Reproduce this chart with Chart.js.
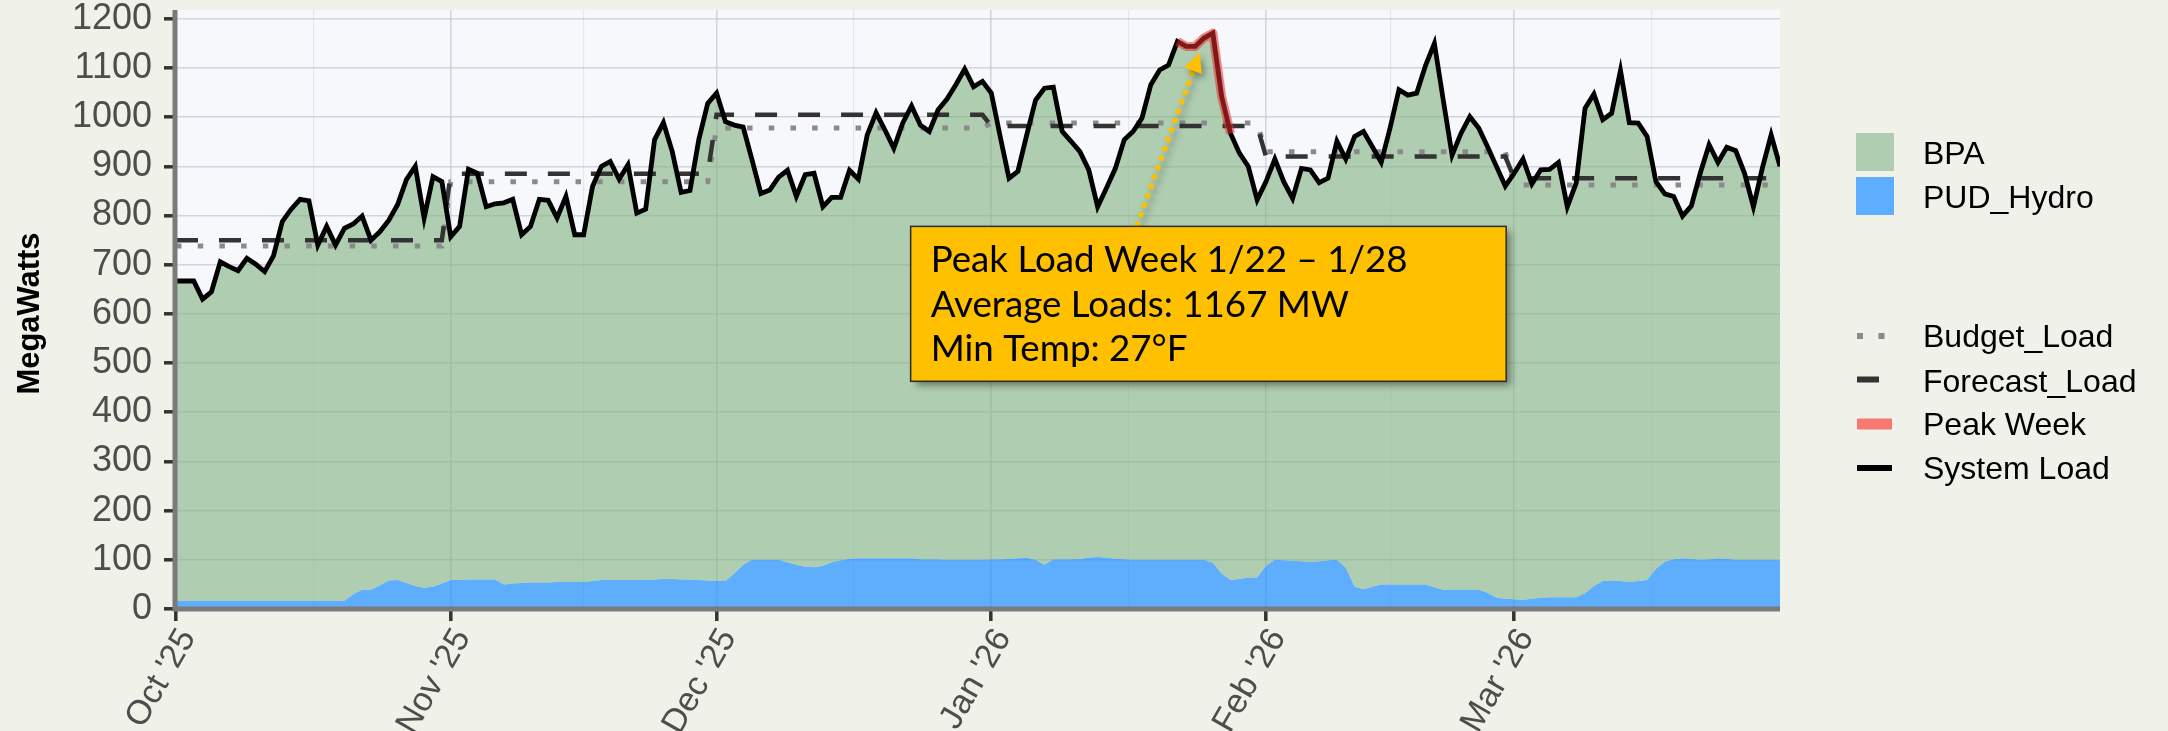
<!DOCTYPE html>
<html>
<head>
<meta charset="utf-8">
<script src="https://cdn.jsdelivr.net/npm/chart.js@4.4.1/dist/chart.umd.min.js"></script>
<style>
html,body{margin:0;padding:0;background:#f0f1e9;overflow:hidden}
canvas{display:block}
</style>
</head>
<body>
<canvas id="c" width="2168" height="731" style="width:2168px;height:731px"></canvas>
<script>
// ---------------- DATA ----------------
const START_DATE = '2025-10-01';
const MONTH_LABELS = ["Oct '25", "Nov '25", "Dec '25", "Jan '26", "Feb '26", "Mar '26"];
const MONTH_DAYS = [31, 30, 31, 31, 28, 31];
const Y_TICKS = [0, 100, 200, 300, 400, 500, 600, 700, 800, 900, 1000, 1100, 1200];
const Y_TITLE = 'MegaWatts';

// Daily system load (MW), Oct 1 2025 – Mar 31 2026
const SYSTEM_LOAD = [
  667,667,667,630,645,706,696,688,713,701,
  686,718,788,813,833,830,740,778,740,774,
  783,799,750,767,790,822,873,900,795,879,
  869,757,778,894,886,818,824,826,833,761,
  778,833,831,795,839,761,761,859,900,910,
  874,903,805,813,954,989,930,847,851,955,
  1028,1049,991,984,980,913,845,852,878,892,
  839,883,886,818,837,837,892,874,964,1009,
  974,937,988,1023,984,971,1015,1037,1066,1098,
  1062,1073,1049,961,876,890,964,1035,1059,1061,
  971,951,930,893,818,856,896,954,971,998,
  1066,1096,1106,1154,1144,1144,1161,1171,1042,967,
  927,900,832,869,915,869,835,896,893,867,
  876,951,915,961,971,940,908,978,1056,1045,
  1049,1105,1150,1035,923,967,1001,978,940,900,
  860,886,915,864,893,894,908,818,866,1018,
  1047,995,1008,1095,989,988,961,869,844,839,
  799,820,886,944,908,939,932,886,818,896,
  964,900
];

// Daily PUD hydro (MW)
const PUD_HYDRO = [
  17,17,17,17,17,17,17,17,17,17,
  17,17,17,17,17,17,17,17,17,17,
  30,39,39,48,58,59,53,47,43,45,
  52,59,59,60,60,60,60,50,52,53,
  54,54,54,55,55,55,55,57,59,59,
  59,59,59,59,60,61,61,60,60,59,
  58,57,57,72,90,100,100,100,100,95,
  90,86,85,88,95,99,102,103,103,103,
  103,103,103,103,101,101,101,100,100,100,
  100,100,101,101,102,103,104,100,90,101,
  101,101,102,104,106,104,102,101,100,100,
  100,100,100,100,100,100,100,94,72,59,
  61,64,64,88,100,99,98,97,96,97,
  99,100,84,45,40,45,50,50,50,50,
  50,50,44,39,39,39,39,39,33,23,
  21,20,19,21,23,24,24,24,24,32,
  47,57,58,57,55,57,59,82,96,101,
  103,102,100,101,103,102,100,100,100,100,
  100,100
];

// Monthly budget / forecast loads (MW), Oct..Mar
const BUDGET_MONTHLY   = [738, 869, 978, 988, 930, 862];
const FORECAST_MONTHLY = [750, 885, 1005, 982, 920, 876];

const PEAK_WEEK_START = '2026-01-22';
const PEAK_WEEK_END   = '2026-01-28';
const ANNOTATION_LINES = ['Peak Load Week 1/22 \u2013 1/28', 'Average Loads: 1167 MW', 'Min Temp: 27\u00B0F'];

const LEGEND_FILLS = [
  {label: 'BPA', color: 'rgb(175,205,176)'},
  {label: 'PUD_Hydro', color: 'rgb(94,174,255)'}
];
const LEGEND_LINES = [
  {label: 'Budget_Load', kind: 'dot'},
  {label: 'Forecast_Load', kind: 'dash'},
  {label: 'Peak Week', kind: 'peak'},
  {label: 'System Load', kind: 'solid'}
];

// ---------------- DERIVED ----------------
const dayIndex = iso => Math.round((Date.parse(iso) - Date.parse(START_DATE)) / 86400000);
const MONTH_STARTS = [];
MONTH_DAYS.reduce((acc, d) => { MONTH_STARTS.push(acc); return acc + d; }, 0);
const N_DAYS = MONTH_DAYS.reduce((a, b) => a + b, 0);
const MONTH_MIDS = MONTH_STARTS.map((s, i) => s + MONTH_DAYS[i] / 2);
const X_TICK_VALUES = MONTH_STARTS.concat(MONTH_MIDS).sort((a, b) => a - b);
const Y_GRID_VALUES = [];
Y_TICKS.forEach((v, i) => { Y_GRID_VALUES.push(v); if (i < Y_TICKS.length - 1) Y_GRID_VALUES.push((v + Y_TICKS[i + 1]) / 2); });

const expandMonthly = arr => arr.flatMap((v, i) => Array(MONTH_DAYS[i]).fill(v));
const BUDGET_DAILY = expandMonthly(BUDGET_MONTHLY);
const FORECAST_DAILY = expandMonthly(FORECAST_MONTHLY);
const pts = arr => arr.map((v, i) => ({x: i, y: v}));
const pkA = dayIndex(PEAK_WEEK_START), pkB = dayIndex(PEAK_WEEK_END);
const PEAK_PTS = pts(SYSTEM_LOAD).slice(pkA, pkB + 1);
const isMonthStart = v => MONTH_STARTS.includes(v);
const isMajorY = v => Y_TICKS.includes(v);

const PAGE_BG = '#f0f1e9';
const PANEL_BG = '#f7f8fc';
const GRID_MAJOR = 'rgba(200,200,212,0.75)';
const GRID_MINOR = 'rgba(215,215,226,0.55)';
const LABEL_FONT = '"Liberation Sans", Arial, sans-serif';

// ---------------- PLUGINS ----------------
const backgroundPlugin = {
  id: 'bg',
  beforeDraw(chart) {
    const {ctx, chartArea: a} = chart;
    ctx.save();
    ctx.fillStyle = PAGE_BG;
    ctx.fillRect(0, 0, chart.width, chart.height);
    ctx.fillStyle = PANEL_BG;
    ctx.fillRect(a.left, a.top, a.right - a.left, a.bottom - a.top);
    ctx.restore();
  }
};

const yTitlePlugin = {
  id: 'yTitle',
  afterDraw(chart) {
    const {ctx, chartArea: a} = chart;
    ctx.save();
    ctx.font = 'bold 100px ' + LABEL_FONT;
    const w = ctx.measureText(Y_TITLE).width;
    const size = 100 * 162 / w;
    ctx.font = 'bold ' + size.toFixed(2) + 'px ' + LABEL_FONT;
    ctx.fillStyle = '#000';
    ctx.textAlign = 'center';
    ctx.textBaseline = 'middle';
    ctx.translate(30, (a.top + a.bottom) / 2 + 4);
    ctx.rotate(-Math.PI / 2);
    ctx.fillText(Y_TITLE, 0, 0);
    ctx.restore();
  }
};

const axisLinePlugin = {
  id: 'axisLines',
  afterDatasetsDraw(chart) {
    const {ctx, chartArea: a} = chart;
    ctx.save();
    ctx.strokeStyle = '#7a7a7a';
    ctx.lineWidth = 5;
    ctx.beginPath();
    ctx.moveTo(a.left - 1, a.top);
    ctx.lineTo(a.left - 1, a.bottom + 2.5);
    ctx.moveTo(a.left - 3.5, a.bottom);
    ctx.lineTo(a.right, a.bottom);
    ctx.stroke();
    ctx.restore();
  }
};

const annotationPlugin = {
  id: 'peakNote',
  afterDatasetsDraw(chart) {
    const {ctx} = chart;
    const xs = chart.scales.x, ys = chart.scales.y;
    const bx0 = xs.getPixelForValue(82.9), bx1 = xs.getPixelForValue(150.1);
    const by0 = ys.getPixelForValue(778), by1 = ys.getPixelForValue(463);
    const tx = xs.getPixelForValue(108.4), ty = by0;
    const hx = xs.getPixelForValue(115.5), hy = ys.getPixelForValue(1131);
    const ang = Math.atan2(hy - ty, hx - tx);
    const headLen = 19, headHalf = 9.5;
    const baseX = hx - headLen * Math.cos(ang), baseY = hy - headLen * Math.sin(ang);

    ctx.save();
    ctx.shadowColor = 'rgba(0,0,0,0.35)';
    ctx.shadowBlur = 6;
    ctx.shadowOffsetX = 3;
    ctx.shadowOffsetY = 4;
    ctx.strokeStyle = '#ffc000';
    ctx.lineWidth = 5;
    ctx.setLineDash([5, 5]);
    ctx.beginPath();
    ctx.moveTo(tx, ty);
    ctx.lineTo(baseX, baseY);
    ctx.stroke();
    ctx.setLineDash([]);
    ctx.fillStyle = '#ffc000';
    ctx.beginPath();
    ctx.moveTo(hx, hy);
    ctx.lineTo(baseX + headHalf * Math.sin(ang), baseY - headHalf * Math.cos(ang));
    ctx.lineTo(baseX - headHalf * Math.sin(ang), baseY + headHalf * Math.cos(ang));
    ctx.closePath();
    ctx.fill();
    ctx.restore();

    ctx.save();
    ctx.shadowColor = 'rgba(0,0,0,0.4)';
    ctx.shadowBlur = 7;
    ctx.shadowOffsetX = 5;
    ctx.shadowOffsetY = 5;
    ctx.fillStyle = '#ffc000';
    ctx.fillRect(bx0, by0, bx1 - bx0, by1 - by0);
    ctx.restore();
    ctx.save();
    ctx.strokeStyle = '#2b2b2b';
    ctx.lineWidth = 1.5;
    ctx.strokeRect(bx0, by0, bx1 - bx0, by1 - by0);

    ctx.font = '100px Lato, "Noto Sans", sans-serif';
    const w100 = ctx.measureText(ANNOTATION_LINES[0]).width;
    const size = 100 * 477 / w100;
    ctx.font = size.toFixed(2) + 'px Lato, "Noto Sans", sans-serif';
    ctx.fillStyle = '#000';
    ctx.textAlign = 'left';
    ctx.textBaseline = 'alphabetic';
    const lineGap = 44.2;
    ANNOTATION_LINES.forEach((t, i) => ctx.fillText(t, bx0 + 20, by0 + 46 + i * lineGap));
    ctx.restore();
  }
};

const legendPlugin = {
  id: 'customLegend',
  afterDraw(chart) {
    const {ctx, chartArea: a} = chart;
    const sx = a.right + 76;
    const tx = a.right + 143;
    ctx.save();
    ctx.font = '32px ' + LABEL_FONT;
    ctx.fillStyle = '#000';
    ctx.textBaseline = 'alphabetic';
    ctx.textAlign = 'left';
    const fillTops = [133, 177];
    const fillBase = [164, 208];
    LEGEND_FILLS.forEach((it, i) => {
      ctx.fillStyle = it.color;
      ctx.fillRect(sx, fillTops[i], 38, 38);
      ctx.fillStyle = '#000';
      ctx.fillText(it.label, tx, fillBase[i]);
    });
    const lineMid = [336, 379.5, 424, 468];
    const lineBase = [347, 392, 435, 479];
    LEGEND_LINES.forEach((it, i) => {
      const m = lineMid[i];
      if (it.kind === 'dot') {
        ctx.fillStyle = '#8a8a8a';
        ctx.fillRect(sx + 1, m - 3, 6, 6);
        ctx.fillRect(sx + 22.5, m - 3, 6, 6);
      } else if (it.kind === 'dash') {
        ctx.fillStyle = '#333333';
        ctx.fillRect(sx + 1, m - 3, 22, 6);
      } else if (it.kind === 'peak') {
        ctx.fillStyle = '#f77a72';
        ctx.fillRect(sx + 1, m - 5.5, 35, 11);
      } else {
        ctx.fillStyle = '#000';
        ctx.fillRect(sx + 1, m - 3, 35, 6);
      }
      ctx.fillStyle = '#000';
      ctx.fillText(it.label, tx, lineBase[i]);
    });
    ctx.restore();
  }
};

// ---------------- CHART ----------------
new Chart(document.getElementById('c'), {
  type: 'line',
  data: {
    datasets: [
      {label: 'Peak Week', data: PEAK_PTS, borderColor: 'rgba(232,45,45,0.55)', borderWidth: 9,
       borderJoinStyle: 'round', borderCapStyle: 'butt', fill: false},
      {label: 'System Load', data: pts(SYSTEM_LOAD), borderColor: '#000', borderWidth: 4.8, fill: false},
      {label: 'Forecast_Load', data: pts(FORECAST_DAILY), borderColor: '#333', borderWidth: 4.5,
       borderDash: [22, 21], borderCapStyle: 'butt', fill: false},
      {label: 'Budget_Load', data: pts(BUDGET_DAILY), borderColor: '#8a8a8a', borderWidth: 5,
       borderDash: [5.5, 16.2], borderCapStyle: 'butt', fill: false},
      {label: 'BPA', data: pts(SYSTEM_LOAD), borderColor: 'transparent', borderWidth: 0,
       backgroundColor: 'rgba(126,176,125,0.6)', fill: 5},
      {label: 'PUD_Hydro', data: pts(PUD_HYDRO), borderColor: 'transparent', borderWidth: 0,
       backgroundColor: 'rgba(30,143,255,0.7)', fill: 'origin'}
    ]
  },
  options: {
    responsive: false,
    animation: false,
    devicePixelRatio: 1,
    events: [],
    layout: {padding: {left: 0, top: 10, right: 388, bottom: 0}},
    elements: {point: {radius: 0}, line: {tension: 0}},
    plugins: {legend: {display: false}, tooltip: {enabled: false}, title: {display: false}},
    scales: {
      x: {
        type: 'linear', min: 0, max: N_DAYS - 1, bounds: 'data',
        afterBuildTicks: s => { s.ticks = X_TICK_VALUES.map(v => ({value: v})); },
        afterFit: s => { s.height = 122; s.paddingLeft = 0; s.paddingRight = 0; },
        border: {display: false},
        grid: {
          color: c => isMonthStart(c.tick.value) ? GRID_MAJOR : GRID_MINOR,
          lineWidth: c => isMonthStart(c.tick.value) ? 1.6 : 1.1,
          drawTicks: true, tickLength: 12, tickWidth: 3.5,
          tickColor: c => isMonthStart(c.tick.value) ? '#333' : 'rgba(0,0,0,0)'
        },
        ticks: {
          autoSkip: false, minRotation: 60, maxRotation: 60, padding: 1, labelOffset: 12,
          color: '#4d4d4d', font: {family: LABEL_FONT, size: 34},
          callback: v => { const k = MONTH_STARTS.indexOf(v); return k >= 0 ? MONTH_LABELS[k] : ''; }
        }
      },
      y: {
        type: 'linear', min: 0, max: 1218, bounds: 'data',
        afterBuildTicks: s => { s.ticks = Y_GRID_VALUES.map(v => ({value: v})); },
        afterFit: s => { s.width = 176; s.paddingTop = 0; s.paddingBottom = 0; },
        border: {display: false},
        grid: {
          color: c => isMajorY(c.tick.value) ? GRID_MAJOR : GRID_MINOR,
          lineWidth: c => isMajorY(c.tick.value) ? 1.6 : 1.1,
          drawTicks: true, tickLength: 12, tickWidth: 3.5,
          tickColor: c => isMajorY(c.tick.value) ? '#333' : 'rgba(0,0,0,0)'
        },
        ticks: {
          padding: 12, color: '#4d4d4d', font: {family: LABEL_FONT, size: 36},
          callback: v => isMajorY(v) ? String(v) : ''
        },
        title: {display: false}
      }
    }
  },
  plugins: [backgroundPlugin, axisLinePlugin, annotationPlugin, legendPlugin, yTitlePlugin]
});
</script>
</body>
</html>
